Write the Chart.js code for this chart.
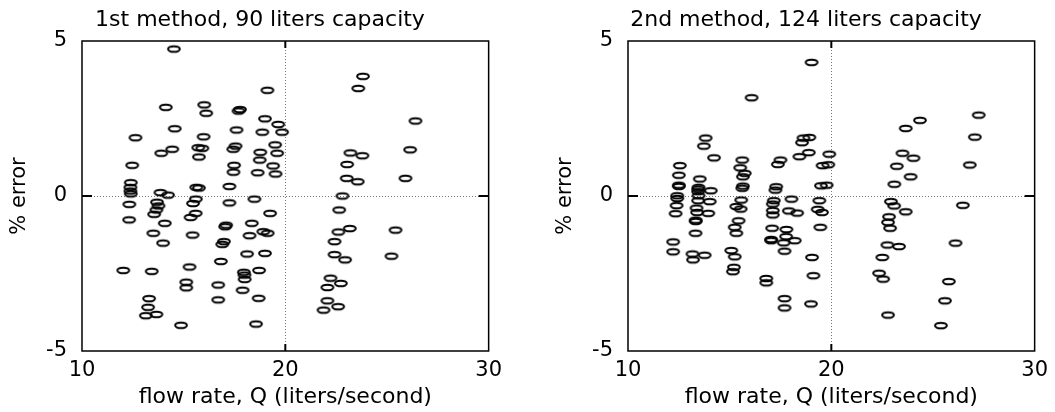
<!DOCTYPE html>
<html>
<head>
<meta charset="utf-8">
<script src="https://cdn.jsdelivr.net/npm/chart.js@4.4.0/dist/chart.umd.min.js"></script>
<style>
  html, body { margin: 0; padding: 0; background: #fff; }
  .wrap { position: absolute; top: 0; width: 509px; height: 412px; }
</style>
</head>
<body>
<div class="wrap" style="left:0"><canvas id="left"></canvas></div>
<div class="wrap" style="left:546px"><canvas id="right"></canvas></div>
<script>
const xTicks = [10, 20, 30];
const yTicks = [-5, 0, 5];
const xLabel = 'flow rate, Q (liters/second)';
const yLabel = '% error';
const title1 = '1st method, 90 liters capacity';
const title2 = '2nd method, 124 liters capacity';

// 1st method, 90 l
const flow1 = [
  14.52, 19.12, 14.12, 16.01, 16.11, 17.77, 17.7, 19.0, 19.65, 14.56,
  17.6, 18.87, 19.84, 12.63, 15.98, 19.5, 14.44, 13.9, 15.72, 15.92,
  17.55, 17.44, 15.75, 18.77, 18.74, 19.6, 19.4, 12.47, 17.48, 17.45,
  18.64, 19.52, 12.4, 12.38, 12.38, 12.4, 13.86, 14.23, 15.62, 15.75,
  17.25, 12.33, 12.32, 13.69, 13.76, 13.66, 13.55, 14.07, 13.51, 13.99,
  15.46, 15.6, 15.59, 15.34, 15.44, 15.29, 15.13, 15.13, 14.87, 12.03,
  13.43, 13.3, 13.25, 13.14, 13.66, 17.25, 18.48, 19.25, 17.09, 17.04,
  18.35, 18.24, 18.92, 19.13, 16.98, 16.9, 18.12, 19.0, 16.83, 17.96,
  17.99, 18.71, 18.0, 16.7, 17.9, 16.7, 18.69, 18.56, 23.82, 23.59,
  26.4, 23.2, 23.79, 26.14, 23.04, 23.02, 23.56, 25.91, 22.81, 22.65,
  22.61, 23.17, 25.42, 22.42, 22.42, 22.94, 25.22, 22.22, 22.73, 22.07,
  22.07, 22.6, 21.88
];
const error1 = [
  4.74, 3.41, 2.86, 2.94, 2.67, 2.79, 2.74, 2.49, 2.31, 2.17,
  2.13, 2.06, 2.06, 1.88, 1.91, 1.65, 1.51, 1.38, 1.56, 1.54,
  1.61, 1.51, 1.26, 1.41, 1.16, 1.38, 0.97, 0.99, 0.99, 0.77,
  0.75, 0.71, 0.43, 0.28, 0.16, 0.07, 0.11, 0.03, 0.28, 0.26,
  0.31, -0.27, -0.77, -0.2, -0.32, -0.45, -0.59, -0.88, -1.2, -1.52,
  -0.24, -0.1, -0.56, -0.69, -1.26, -2.29, -2.78, -2.96, -4.17, -2.4,
  -2.43, -3.31, -3.59, -3.86, -3.82, -0.22, -0.1, -0.56, -0.94, -0.99,
  -0.88, -1.28, -1.15, -1.2, -1.47, -1.56, -1.87, -1.85, -2.11, -2.46,
  -2.55, -2.4, -2.69, -2.87, -3.04, -3.35, -3.3, -4.13, 3.86, 3.47,
  2.42, 1.39, 1.3, 1.49, 1.02, 0.57, 0.46, 0.57, 0.0, -0.45,
  -1.16, -1.05, -1.1, -1.47, -1.89, -2.06, -1.94, -2.65, -2.82, -2.95,
  -3.38, -3.57, -3.68
];

// 2nd method, 124 l
const flow2 = [
  19.03, 16.08, 13.82, 13.73, 14.23, 12.55, 12.5, 12.5, 12.5, 13.53,
  13.45, 13.45, 14.07, 15.62, 15.52, 15.74, 15.65, 15.65, 15.62, 17.5,
  17.37, 17.29, 17.25, 18.63, 18.92, 18.56, 18.43, 18.89, 27.25, 24.36,
  23.66, 27.06, 23.5, 24.04, 19.9, 19.57, 19.85, 23.22, 26.81, 23.9,
  23.1, 19.49, 19.77, 19.41, 19.33, 19.54, 19.46, 19.05, 19.12, 19.0,
  22.93, 23.09, 23.66, 26.47, 22.84, 22.79, 22.89, 22.76, 23.33, 26.11,
  22.51, 22.35, 22.55, 25.78, 25.59, 22.79, 25.39, 12.42, 12.42, 12.39,
  12.34, 12.22, 12.22, 13.47, 13.47, 13.45, 14.02, 13.95, 13.37, 13.4,
  13.33, 13.33, 13.32, 13.17, 13.77, 13.2, 15.57, 15.33, 15.54, 15.44,
  15.25, 15.33, 15.08, 15.25, 15.21, 15.16, 17.17, 17.12, 17.12, 17.12,
  17.09, 17.04, 17.04, 16.8, 16.8, 18.04, 17.91, 18.32, 17.79, 17.78,
  17.66, 18.2, 17.7, 17.7, 17.7
];
const error2 = [
  4.31, 3.17, 1.87, 1.61, 1.23, 0.98, 0.67, 0.35, 0.31, 0.55,
  0.22, 0.14, 0.17, 1.16, 0.91, 0.73, 0.62, 0.32, 0.25, 1.16,
  1.02, 0.3, 0.19, 1.87, 1.89, 1.72, 1.27, 1.4, 2.61, 2.44,
  2.18, 1.9, 1.38, 1.22, 1.35, 0.98, 1.01, 0.96, 1.0, 0.62,
  0.38, 0.33, 0.35, -0.15, -0.43, -0.53, -1.01, -1.98, -2.57, -3.48,
  -0.18, -0.32, -0.51, -0.3, -0.67, -0.85, -1.04, -1.58, -1.63, -1.52,
  -1.98, -2.49, -2.68, -2.76, -3.38, -3.84, -4.18, 0.01, -0.08, -0.31,
  -0.57, -1.48, -1.8, 0.28, 0.01, -0.15, -0.18, -0.56, -0.39, -0.53,
  -0.78, -0.82, -1.2, -1.87, -1.91, -2.06, -0.13, -0.34, -0.42, -0.8,
  -1.01, -1.2, -1.76, -1.96, -2.3, -2.44, -0.15, -0.26, -0.47, -0.61,
  -1.04, -1.4, -1.44, -2.66, -2.8, -0.1, -0.48, -0.55, -1.08, -1.31,
  -1.51, -1.44, -1.78, -3.31, -3.61
];

Chart.defaults.font.family = '"DejaVu Sans", sans-serif';
Chart.defaults.color = '#000';

// open ellipse marker
const ring = document.createElement('canvas');
ring.width = 18;
ring.height = 11;
const rc = ring.getContext('2d');
rc.strokeStyle = '#000';
rc.lineWidth = 2;
rc.beginPath();
rc.ellipse(9, 5.5, 5.9, 2.8, 0, 0, Math.PI * 2);
rc.stroke();

// box around the plot area, short inward ticks at x=20 and y=0
const frame = {
  id: 'frame',
  afterDraw(chart) {
    const { ctx, chartArea: a, scales } = chart;
    const x20 = scales.x.getPixelForValue(xTicks[1]);
    const y0 = scales.y.getPixelForValue(yTicks[1]);
    ctx.save();
    ctx.strokeStyle = '#000';
    ctx.lineWidth = 1.5;
    ctx.strokeRect(a.left, a.top, a.right - a.left, a.bottom - a.top);
    ctx.lineWidth = 2;
    ctx.beginPath();
    ctx.moveTo(a.left, y0); ctx.lineTo(a.left + 10, y0);
    ctx.moveTo(a.right, y0); ctx.lineTo(a.right - 10, y0);
    ctx.moveTo(x20, a.top); ctx.lineTo(x20, a.top + 7);
    ctx.moveTo(x20, a.bottom); ctx.lineTo(x20, a.bottom - 7);
    ctx.stroke();
    ctx.restore();
  }
};

const dotted = (value) => (ctx) =>
  ctx.tick && ctx.tick.value === value ? '#777' : 'rgba(0,0,0,0)';

function makeChart(id, title, flow, error) {
  const points = flow.map((q, i) => ({ x: q, y: error[i] }));
  return new Chart(document.getElementById(id), {
    type: 'scatter',
    data: {
      datasets: [{
        data: points,
        pointStyle: ring,
        pointRadius: 6,
        showLine: false
      }]
    },
    options: {
      responsive: true,
      maintainAspectRatio: false,
      animation: false,
      layout: { padding: { left: 30, right: 19, top: 0, bottom: 0 } },
      plugins: {
        legend: { display: false },
        tooltip: { enabled: false },
        title: {
          display: true,
          text: title,
          fullSize: true,
          color: '#000',
          font: { size: 22, weight: 'normal' },
          padding: { top: 7, bottom: 7.6 }
        }
      },
      scales: {
        x: {
          type: 'linear',
          min: 10,
          max: 30,
          afterBuildTicks: (s) => { s.ticks = xTicks.map(v => ({ value: v })); },
          afterFit: (s) => { s.height = 61; },
          ticks: { font: { size: 21 }, padding: 7, maxRotation: 0 },
          grid: { color: dotted(20), lineWidth: 1, drawTicks: false },
          border: { display: false, dash: [1, 2] },
          title: {
            display: true,
            text: xLabel,
            font: { size: 22 },
            padding: { top: 0, bottom: 2 }
          }
        },
        y: {
          type: 'linear',
          min: -5,
          max: 5,
          afterBuildTicks: (s) => { s.ticks = yTicks.map(v => ({ value: v })); },
          afterFit: (s) => { s.width = 52; },
          ticks: { font: { size: 21 }, padding: 15 },
          grid: { color: dotted(0), lineWidth: 1, drawTicks: false },
          border: { display: false, dash: [1, 2] },
          title: {
            display: true,
            text: yLabel,
            font: { size: 21 },
            // pulls the rotated label out to the left edge
            padding: { top: -23, bottom: 0 }
          }
        }
      }
    },
    plugins: [frame]
  });
}

makeChart('left', title1, flow1, error1);
makeChart('right', title2, flow2, error2);
</script>
</body>
</html>
